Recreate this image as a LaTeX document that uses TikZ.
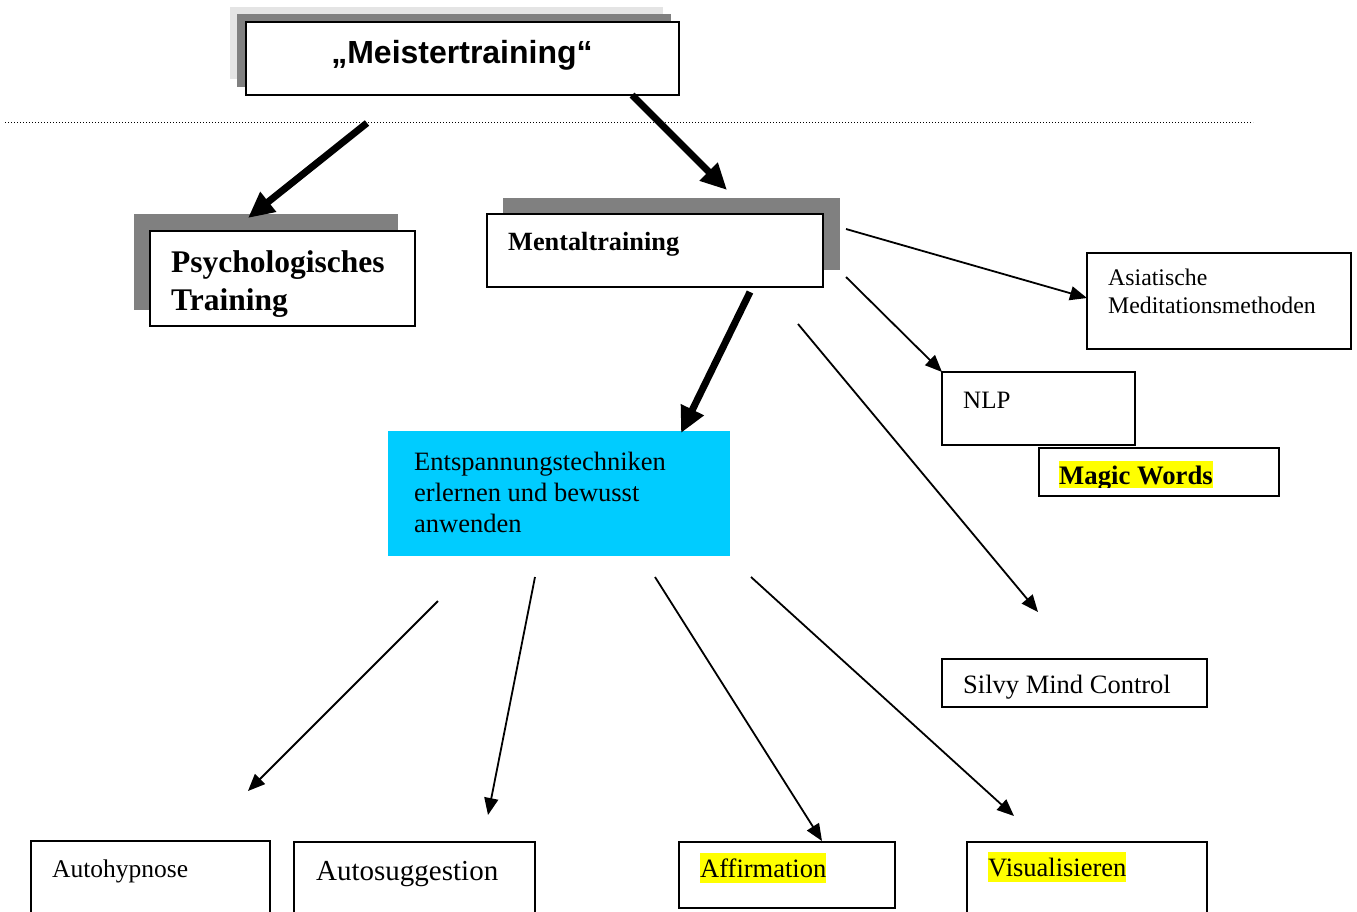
\documentclass[tikz,border=0pt]{standalone}
\usepackage{fontspec}
\setmainfont{Liberation Serif}
\newfontfamily\headfont{Liberation Sans}
\usetikzlibrary{arrows.meta,fit}
\definecolor{shade}{HTML}{808080}
\definecolor{paleshade}{HTML}{E4E4E4}
\definecolor{relax}{HTML}{00CCFF}
\definecolor{marker}{HTML}{FFFF00}
\begin{document}
\begin{tikzpicture}[x=1pt,y=-1pt,
  box/.style={draw, line width=1.6pt, fill=white, inner sep=0pt, outer sep=0pt},
  shadowbox/.style={fill=shade, draw=none, inner sep=0pt, outer sep=0pt},
  paleshadow/.style={fill=paleshade, draw=none, inner sep=0pt, outer sep=0pt},
  txt/.style={anchor=base west, inner sep=0pt, font=\fontsize{26.5}{31}\selectfont},
  marked/.style={fill=marker, text height=24pt, text depth=6pt},
  thinarrow/.style={line width=1.8pt, -{Triangle[length=17pt,width=14pt]}},
  thickarrow/.style={line width=7pt, -{Triangle[length=26pt,width=24pt]}}
]
\useasboundingbox (0,0) rectangle (1357,911);
\clip (0,0) rectangle (1357,911);

% separator line
\coordinate (sepL) at (5,122);
\coordinate (sepR) at (1253,122);
\draw[line width=1pt, dotted] (sepL) -- (sepR);

% top box with stacked shadows
\node[paleshadow, fit={(230,7) (663,79)}] (meisterPale) {};
\node[shadowbox, fit={(237,14) (671,87)}] (meisterShade) {};
\node[box, fit={(246,22) (679,95)}] (meister) {};
\node[anchor=base, inner sep=0pt, font=\headfont\bfseries\fontsize{32}{36}\selectfont] (meisterTxt) at (462,63) {„Meistertraining“};

% second level
\node[shadowbox, fit={(134,214) (398,310)}] (psychShade) {};
\node[box, fit={(150,231) (415,326)}] (psych) {};
\node[txt, font=\bfseries\fontsize{31.5}{38}\selectfont] (psychA) at (171,272) {Psychologisches};
\node[txt, font=\bfseries\fontsize{31.5}{38}\selectfont] (psychB) at (171,310) {Training};

\node[shadowbox, fit={(503,198) (840,270)}] (mentalShade) {};
\node[box, fit={(487,214) (823,287)}] (mental) {};
\node[txt, font=\bfseries\fontsize{26.3}{31}\selectfont] (mentalTxt) at (508,250) {Mentaltraining};

% methods on the right
\node[box, fit={(1087,253) (1351,349)}] (asia) {};
\node[txt, font=\fontsize{23.8}{28}\selectfont] (asiaA) at (1108,285) {Asiatische};
\node[txt, font=\fontsize{23.8}{28}\selectfont] (asiaB) at (1108,313) {Meditationsmethoden};

\node[box, fit={(942,372) (1135,445)}] (nlp) {};
\node[txt, font=\fontsize{25}{30}\selectfont] (nlpTxt) at (963,408) {NLP};

\node[box, fit={(1039,448) (1279,496)}] (magic) {};
\begin{scope}
  \clip (1050,455) rectangle (1240,487);
  \node[txt, marked, text height=23pt, font=\bfseries\fontsize{26.7}{31}\selectfont] (magicTxt) at (1059,484) {Magic Words};
\end{scope}

\node[box, fit={(942,659) (1207,707)}] (silva) {};
\begin{scope}
  \clip (950,665) rectangle (1200,698);
  \node[txt] (silvaTxt) at (963,693) {Silvy Mind Control};
\end{scope}

% relaxation block
\node[fill=relax, draw=none, inner sep=0pt, fit={(388,431) (730,556)}] (relaxBox) {};
\node[txt] (relaxA) at (414,470) {Entspannungstechniken};
\node[txt] (relaxB) at (414,501) {erlernen und bewusst};
\node[txt] (relaxC) at (414,532) {anwenden};

% bottom row
\node[box, fit={(31,841) (270,930)}] (hypno) {};
\node[txt, font=\fontsize{25.5}{30}\selectfont] (hypnoTxt) at (52,877) {Autohypnose};
\node[box, fit={(294,842) (535,930)}] (sugg) {};
\node[txt, font=\fontsize{29}{34}\selectfont] (suggTxt) at (316,880) {Autosuggestion};
\node[box, fit={(679,842) (895,908)}] (affirm) {};
\node[txt, marked] (affirmTxt) at (700,877) {Affirmation};
\node[box, fit={(967,842) (1207,930)}] (visual) {};
\node[txt, marked] (visualTxt) at (988,876) {Visualisieren};

% connector end points
\coordinate (mL0) at (367,123);  \coordinate (mL1) at (248,218);
\coordinate (mR0) at (632,95);   \coordinate (mR1) at (727,190);
\coordinate (mD0) at (750,292);  \coordinate (mD1) at (681,433);
\coordinate (aS0) at (846,229);  \coordinate (aS1) at (1087,298);
\coordinate (nS0) at (846,277);  \coordinate (nS1) at (942,372);
\coordinate (sS0) at (798,324);  \coordinate (sS1) at (1038,612);
\coordinate (r10) at (438,601);  \coordinate (r11) at (248,791);
\coordinate (r20) at (535,577);  \coordinate (r21) at (488,815);
\coordinate (r30) at (655,577);  \coordinate (r31) at (822,841);
\coordinate (r40) at (751,577);  \coordinate (r41) at (1014,816);

\draw[thickarrow] (mL0) -- (mL1);
\draw[thickarrow] (mR0) -- (mR1);
\draw[thickarrow] (mD0) -- (mD1);
\draw[thinarrow] (aS0) -- (aS1);
\draw[thinarrow] (nS0) -- (nS1);
\draw[thinarrow] (sS0) -- (sS1);
\draw[thinarrow] (r10) -- (r11);
\draw[thinarrow] (r20) -- (r21);
\draw[thinarrow] (r30) -- (r31);
\draw[thinarrow] (r40) -- (r41);
\end{tikzpicture}
\end{document}
